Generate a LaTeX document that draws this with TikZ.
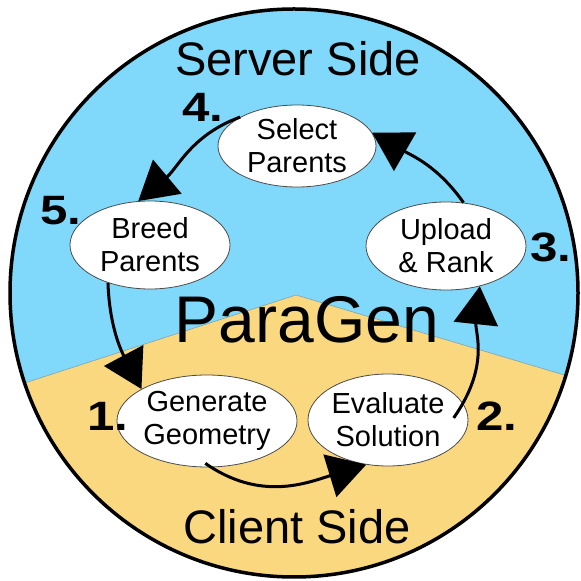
\documentclass[tikz,border=0pt]{standalone}
\usepackage{fontspec}
\setmainfont{Liberation Sans}
\usetikzlibrary{shapes.geometric,arrows.meta,calc}
\definecolor{sky}{RGB}{128,216,250}
\definecolor{sand}{RGB}{250,216,128}
\newcommand{\stagenum}[1]{\scalebox{1.2}[1]{#1}}
\begin{document}
\begin{tikzpicture}[x=1pt,y=1pt,
  stage/.style={ellipse, draw=gray!60!black, line width=0.8pt, fill=white,
    minimum width=160pt, minimum height=88pt, inner sep=0pt, align=center,
    font=\fontsize{29}{33}\selectfont},
  num/.style={font=\fontsize{41}{41}\selectfont\bfseries, anchor=base west, inner sep=0pt},
  title/.style={font=\fontsize{47}{47}\selectfont, anchor=base, inner sep=0pt},
  flow/.style={line width=3pt, -{Triangle[length=38pt,width=44pt]}}]
\useasboundingbox (0,0) rectangle (581,581);
\begin{scope}
  \clip (294,288) circle [radius=284];
  \fill[sky] (0,0) rectangle (581,581);
  \fill[sand] (0,190) -- (296,286) -- (581,201) -- (581,0) -- (0,0) -- cycle;
  \draw[gray!60!sky, line width=0.6pt] (0,190) -- (296,286) -- (581,201);
\end{scope}
\draw[line width=3.5pt] (294,288) circle [radius=284];

\node[title] (srv) at (298,505) {Server Side};
\node[title] (cli) at (297,37) {Client Side};
\node[title, font=\fontsize{66}{66}\selectfont] (pg) at (307,238) {ParaGen};

\node[stage, minimum width=158pt, minimum height=82pt] (sel) at (297,435) {Select\\Parents};
\node[stage] (brd) at (150,336) {Breed\\Parents};
\node[stage] (upl) at (446,335) {Upload\\\& Rank};
\node[stage, minimum height=92pt] (gen) at (207,160) {Generate\\Geometry};
\node[stage, minimum height=92pt] (eva) at (388,161) {Evaluate\\Solution};

\node[num] (n4) at (182,459) {\stagenum{4.}};
\node[num] (n5) at (40,356) {\stagenum{5.}};
\node[num] (n3) at (530,319) {\stagenum{3.}};
\node[num] (n1) at (87,150) {\stagenum{1.}};
\node[num] (n2) at (476,150) {\stagenum{2.}};

\draw[flow] (sel.153) to[out=200,in=40] (brd.105);
\draw[flow] (brd.222) to[out=-88,in=118] (gen.154);
\draw[flow, shorten <=-7pt] (gen.275) to[out=-35,in=197] (eva.244);
\draw[flow, shorten <=-17pt] (eva.12) to[out=55,in=264] (upl.310);
\draw[flow] (upl.68) to[out=125,in=330] (sel.10);
\end{tikzpicture}
\end{document}
